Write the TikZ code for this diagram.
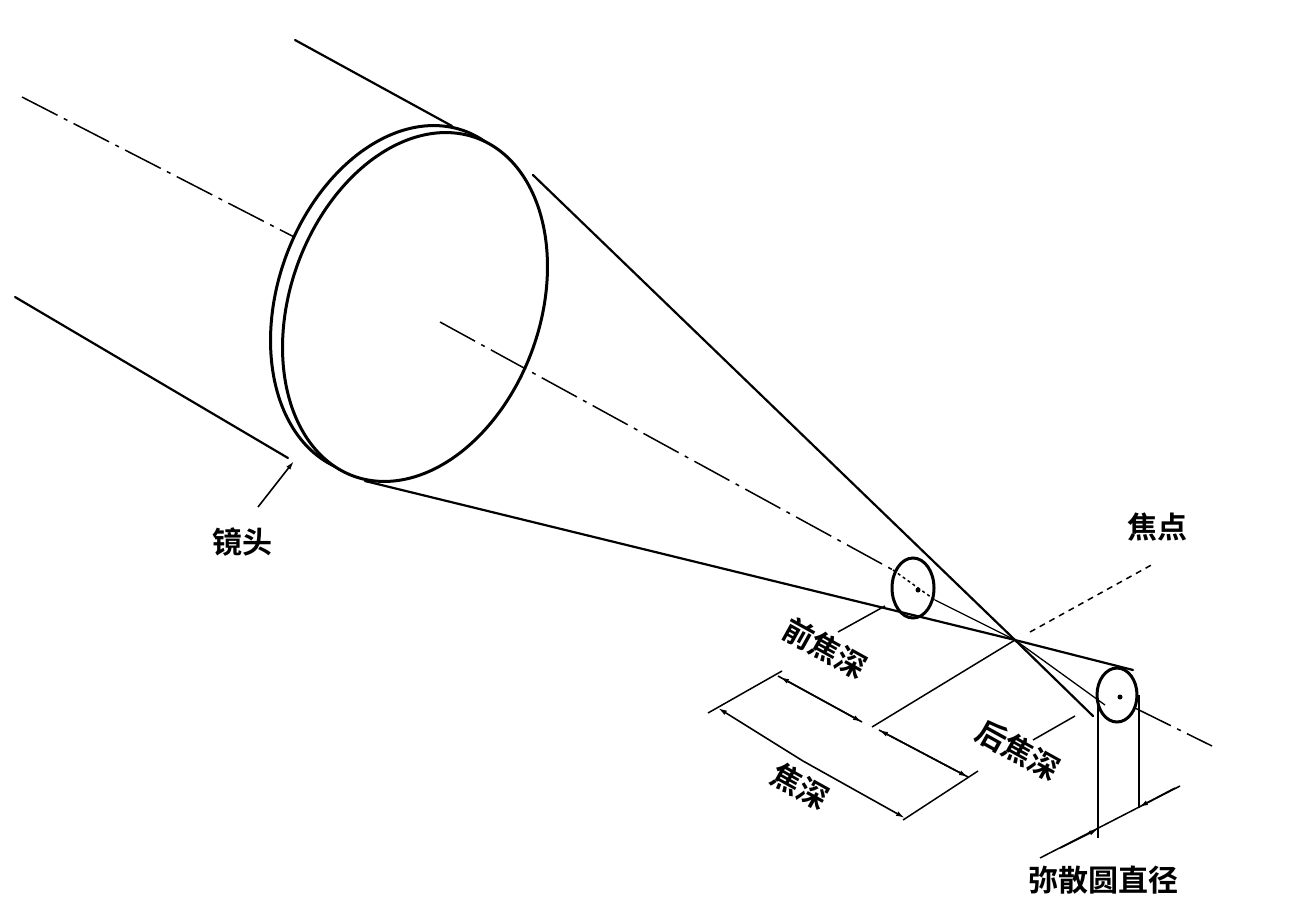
\documentclass[tikz,border=0pt]{standalone}
\usepackage{fontspec}
\newfontfamily\cjk{Noto Sans CJK SC}[BoldFont={Noto Sans CJK SC Bold}]
\usetikzlibrary{arrows.meta}
\begin{document}
\begin{tikzpicture}[x=1pt,y=-1pt,
  thick line/.style={line width=3pt, line cap=round},
  thin line/.style={line width=2.2pt, line cap=round},
  axis/.style={line width=1.5pt, dash pattern=on 40pt off 7pt on 4pt off 7pt},
  dimarr/.style={line width=1.6pt, -{Latex[length=9pt,width=5pt]}},
  lbl/.style={font=\cjk\fontsize{30}{30}\selectfont\bfseries, inner sep=0pt}]
\useasboundingbox (0,0) rectangle (1293,919);
% axis behind lens
\draw[axis] (22,97) -- (300,240);
% tube
\draw[thin line] (295,40) -- (452,126);
\draw[thin line] (15,297) -- (288,458);
% lens back rim
\draw[thick line, fill=white] plot[domain=0:360,samples=120,smooth cycle]
  ({403+180*cos(\x)*0.34+125*sin(\x)*0.94},{300-180*cos(\x)*0.94+125*sin(\x)*0.34});
% lens front
\draw[thick line, fill=white] plot[domain=0:360,samples=120,smooth cycle]
  ({415+180*cos(\x)*0.34+125*sin(\x)*0.94},{307-180*cos(\x)*0.94+125*sin(\x)*0.34});
% axis in front
\draw[axis] (440,322) -- (893,570);
\draw[line width=1.5pt, dashed] (893,570) -- (935,600);
\draw[axis] (1135,708) -- (1212,746);
% focus point
\coordinate (F) at (1015,640);
% cone
\draw[thin line] (533,175) -- (F) -- (1093,716);
\draw[thin line] (365,481) -- (F) -- (1133,670);
\draw[line width=1.3pt] (935,600) -- (F) -- (1105,705);
% small circles
\draw[thick line] (913,588) ellipse [x radius=21, y radius=30];
\draw[thick line] (1117,695) ellipse [x radius=20, y radius=27];
\fill (918,590) circle (2.5pt);
\fill (1120,697) circle (2.5pt);
% focus lines
\draw[line width=1.5pt, dash pattern=on 6pt off 5pt] (1030,632) -- (1155,563);
\draw[line width=1.5pt] (F) -- (872,727);
% leaders
\draw[line width=1.5pt] (885,606) -- (838,632);
\draw[line width=1.5pt] (1075,716) -- (1033,740);
% extension lines for depth
\draw[line width=1.5pt] (708,713) -- (782,671);
\draw[line width=1.5pt] (978,771) -- (903,820);
% dimension lines
\draw[dimarr] (862,722) -- (780,677);
\draw[dimarr] (778,676) -- (862,722);
\draw[dimarr] (879,730) -- (968,777);
\draw[dimarr] (968,777) -- (879,730);
\draw[dimarr] (803,761) -- (718,708);
\draw[dimarr] (803,761) -- (905,818);
% diameter
\draw[line width=1.5pt] (1098,702) -- (1098,838);
\draw[line width=1.5pt] (1139,695) -- (1139,808);
\draw[line width=1.5pt] (1040,858) -- (1180,786);
\draw[dimarr] (1060,848) -- (1098,829);
\draw[dimarr] (1175,788) -- (1139,807);
% lens label arrow
\draw[dimarr] (258,507) -- (294,461);
% labels
\node[lbl] (l1) at (242,542) {镜头};
\node[lbl] (l2) at (1157,527) {焦点};
\node[lbl, rotate=-29] (l3) at (825,648) {前焦深};
\node[lbl, rotate=-29] (l4) at (1018,750) {后焦深};
\node[lbl, rotate=-29] (l5) at (800,786) {焦深};
\node[lbl] (l6) at (1103,880) {弥散圆直径};
\end{tikzpicture}
\end{document}
